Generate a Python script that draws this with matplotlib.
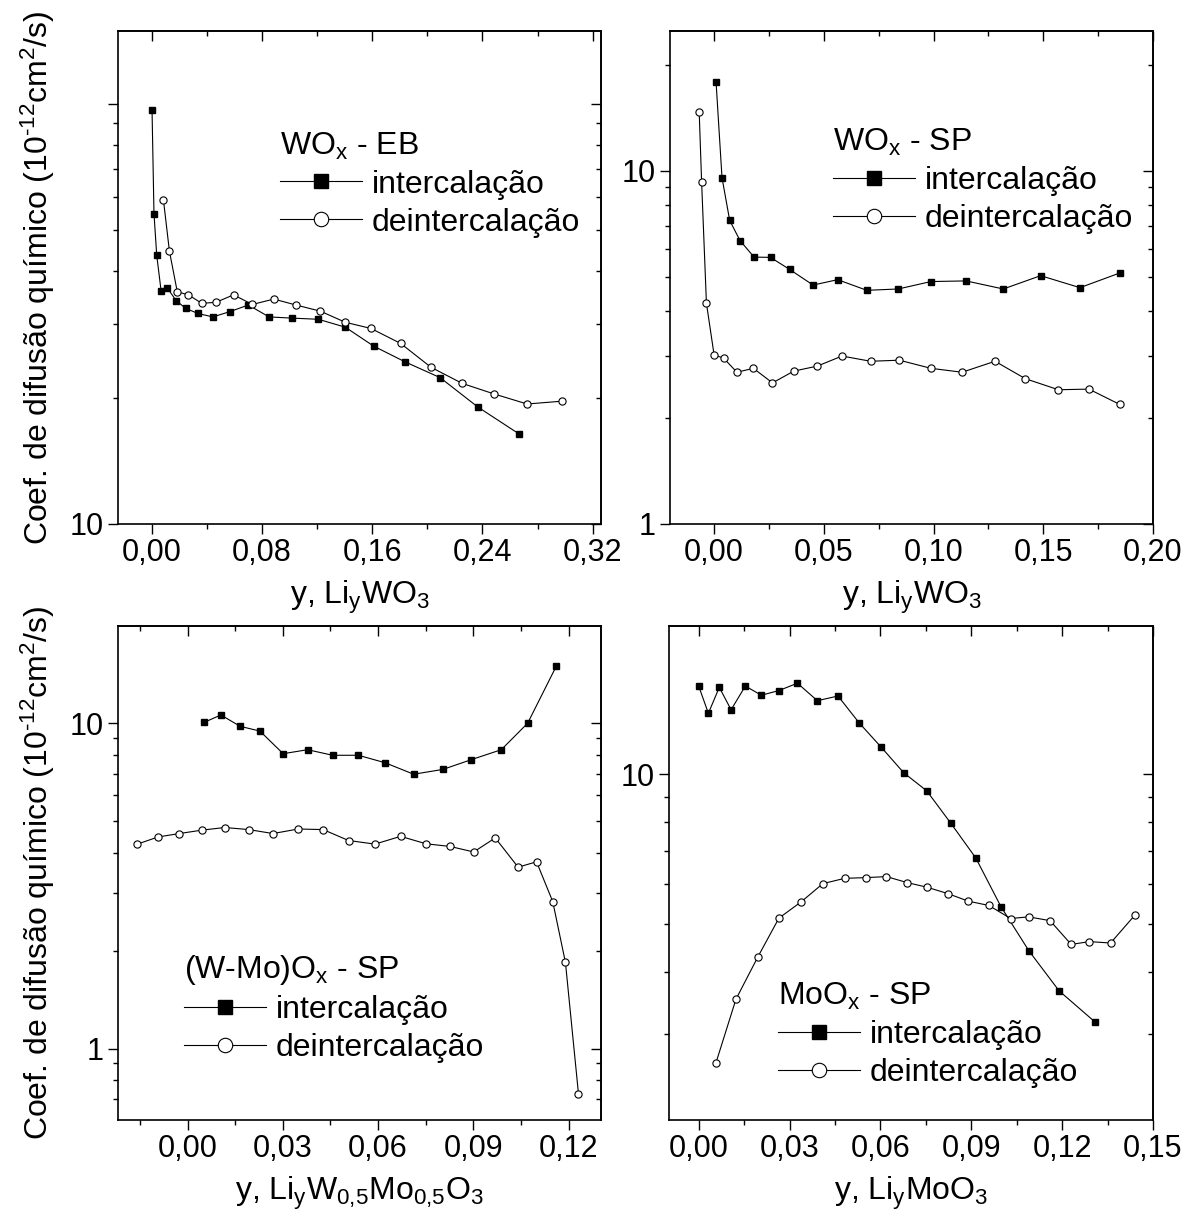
import matplotlib
matplotlib.use("Agg")
import matplotlib.pyplot as plt
from matplotlib.ticker import LogLocator, MultipleLocator, FuncFormatter, NullFormatter

plt.rcParams['font.family'] = ['Liberation Sans', 'DejaVu Sans']
plt.rcParams['mathtext.fontset'] = 'custom'
plt.rcParams['mathtext.rm'] = 'Liberation Sans'
plt.rcParams['mathtext.it'] = 'Liberation Sans:italic'
plt.rcParams['mathtext.bf'] = 'Liberation Sans:bold'

# ---------------- data ----------------
# Panel 1: WOx - EB
p1_int_x = [0.0003, 0.0017, 0.0037, 0.0069, 0.0115, 0.0178, 0.0247, 0.0335, 0.0444, 0.0565,
            0.0702, 0.0852, 0.1018, 0.1210, 0.1405, 0.1611, 0.1840, 0.2093, 0.2365, 0.2663]
p1_int_y = [96.4, 54.8, 43.6, 35.8, 36.4, 34.0, 32.6, 31.7, 31.1, 32.0,
            33.2, 31.1, 30.9, 30.7, 29.4, 26.5, 24.3, 22.3, 19.0, 16.4]
p1_dei_x = [0.0086, 0.0129, 0.0186, 0.0267, 0.0364, 0.0467, 0.0594, 0.0731, 0.0886, 0.1047,
            0.1224, 0.1405, 0.1591, 0.1806, 0.2027, 0.2254, 0.2483, 0.2724, 0.2976]
p1_dei_y = [58.9, 44.6, 35.7, 35.1, 33.5, 33.7, 35.1, 33.3, 34.3, 33.2,
            32.1, 30.2, 29.2, 26.9, 23.6, 21.6, 20.4, 19.3, 19.6]

# Panel 2: WOx - SP
p2_int_x = [0.0009, 0.0036, 0.0071, 0.0118, 0.0182, 0.0257, 0.0344, 0.0451, 0.0563, 0.0696,
            0.0839, 0.0988, 0.1148, 0.1318, 0.1488, 0.1667, 0.1849]
p2_int_y = [17.8, 9.57, 7.24, 6.35, 5.70, 5.69, 5.26, 4.75, 4.92, 4.59,
            4.63, 4.86, 4.88, 4.63, 5.05, 4.67, 5.14]
p2_dei_x = [-0.0068, -0.0057, -0.0035, 0.0, 0.0043, 0.0104, 0.0179, 0.0266, 0.0363, 0.0470,
            0.0583, 0.0713, 0.0844, 0.0988, 0.1130, 0.1280, 0.1418, 0.1569, 0.1708, 0.1849]
p2_dei_y = [14.7, 9.33, 4.22, 3.01, 2.95, 2.69, 2.76, 2.51, 2.71, 2.80,
            2.99, 2.89, 2.91, 2.76, 2.69, 2.89, 2.58, 2.40, 2.41, 2.18]

# Panel 3: (W-Mo)Ox - SP
p3_int_x = [0.0052, 0.0105, 0.0166, 0.0228, 0.0301, 0.0378, 0.0457, 0.0538, 0.0622, 0.0712,
            0.0804, 0.0894, 0.0988, 0.1071, 0.1161]
p3_int_y = [10.06, 10.6, 9.78, 9.46, 8.06, 8.29, 7.97, 7.97, 7.56, 6.97,
            7.21, 7.73, 8.29, 10.0, 14.96]
p3_dei_x = [-0.0158, -0.0093, -0.0026, 0.0044, 0.0117, 0.0193, 0.0269, 0.0349, 0.0427, 0.0507,
            0.0590, 0.0671, 0.0751, 0.0827, 0.0901, 0.0969, 0.1041, 0.1099, 0.1150, 0.1190, 0.1231]
p3_dei_y = [4.25, 4.47, 4.58, 4.69, 4.78, 4.71, 4.58, 4.73, 4.71, 4.36,
            4.25, 4.49, 4.26, 4.18, 4.02, 4.44, 3.61, 3.75, 2.83, 1.84, 0.727]

# Panel 4: MoOx - SP
p4_int_x = [0.0, 0.0032, 0.0068, 0.0107, 0.0154, 0.0207, 0.0265, 0.0326, 0.0392, 0.0460,
            0.0530, 0.0601, 0.0677, 0.0753, 0.0833, 0.0915, 0.0998, 0.1090, 0.1190, 0.1308]
p4_int_y = [15.06, 13.27, 14.97, 13.49, 15.06, 14.43, 14.75, 15.26, 14.07, 14.38,
            12.69, 11.37, 10.07, 9.26, 7.96, 6.78, 5.41, 4.41, 3.66, 3.17]
p4_dei_x = [0.0057, 0.0123, 0.0195, 0.0265, 0.0338, 0.0410, 0.0482, 0.0552, 0.0620, 0.0688,
            0.0754, 0.0822, 0.0890, 0.0958, 0.1030, 0.1089, 0.1160, 0.1230, 0.1290, 0.1360, 0.1440]
p4_dei_y = [2.62, 3.52, 4.28, 5.13, 5.53, 6.02, 6.17, 6.19, 6.22, 6.05,
            5.92, 5.75, 5.55, 5.44, 5.12, 5.16, 5.07, 4.54, 4.60, 4.57, 5.20]

legend_titles = [r"WO$_\mathregular{x}$ - EB", r"WO$_\mathregular{x}$ - SP",
                 r"(W-Mo)O$_\mathregular{x}$ - SP", r"MoO$_\mathregular{x}$ - SP"]
series_labels = ["intercalação", "deintercalação"]
x_labels = [r"y, Li$_\mathregular{y}$WO$_\mathregular{3}$",
            r"y, Li$_\mathregular{y}$WO$_\mathregular{3}$",
            r"y, Li$_\mathregular{y}$W$_\mathregular{0{,}5}$Mo$_\mathregular{0{,}5}$O$_\mathregular{3}$",
            r"y, Li$_\mathregular{y}$MoO$_\mathregular{3}$"]
y_label = r"Coef. de difusão químico (10$^\mathregular{\text{-}12}$cm$^\mathregular{2}$/s)"

# ---------------- figure ----------------
W, H = 1187, 1218
fig = plt.figure(figsize=(W / 100, H / 100), dpi=100)

def box(l, t, r, b):
    return [l / W, 1 - b / H, (r - l) / W, (b - t) / H]

rects = [box(118, 31, 601, 524), box(670, 31, 1153, 524),
         box(118, 626, 601, 1120), box(669, 626, 1153, 1120)]
xlims = [(-0.0244, 0.326), (-0.0201, 0.20), (-0.0219, 0.1302), (-0.0098, 0.15)]
ylims = [(10, 149), (1, 24.9), (0.603, 19.9), (2.01, 19.9)]
xmaj = [0.08, 0.05, 0.03, 0.03]
ylabels_shown = [[10], [1, 10], [1, 10], [10]]
leg_anchor = [(0.335, 0.798), (0.337, 0.805), (0.137, 0.338), (0.225, 0.281)]

data = [(p1_int_x, p1_int_y, p1_dei_x, p1_dei_y),
        (p2_int_x, p2_int_y, p2_dei_x, p2_dei_y),
        (p3_int_x, p3_int_y, p3_dei_x, p3_dei_y),
        (p4_int_x, p4_int_y, p4_dei_x, p4_dei_y)]

FS_TICK = 22
FS_LAB = 23
FS_LEG = 23
LW = 0.8
SPW = 1.2

for i in range(4):
    ax = fig.add_axes(rects[i])
    ix, iy, dx, dy = data[i]
    ax.plot(ix, iy, color='black', lw=LW, marker='s', ms=5, mfc='black', mec='black',
            label=series_labels[0])
    ax.plot(dx, dy, color='black', lw=LW, marker='o', ms=5.2, mfc='white', mec='black',
            mew=0.8, label=series_labels[1])
    ax.set_yscale('log')
    ax.set_xlim(*xlims[i])
    ax.set_ylim(*ylims[i])

    shown = ylabels_shown[i]
    ax.yaxis.set_major_locator(LogLocator(base=10, numticks=10))
    ax.yaxis.set_minor_locator(LogLocator(base=10, subs=range(2, 10), numticks=20))
    ax.yaxis.set_major_formatter(FuncFormatter(
        lambda v, p, s=shown: (str(int(round(v))) if any(abs(v - q) < 1e-6 for q in s) else "")))
    ax.yaxis.set_minor_formatter(NullFormatter())
    ax.xaxis.set_major_locator(MultipleLocator(xmaj[i]))
    ax.xaxis.set_minor_locator(MultipleLocator(xmaj[i] / 2))
    ax.xaxis.set_major_formatter(FuncFormatter(
        lambda v, p: f"{v:.2f}".replace('.', ',').replace('-0,00', '0,00')))

    ax.tick_params(which='major', direction='out', length=7, width=1.0, labelsize=FS_TICK, pad=3,
                   top=False, right=False, colors='black')
    ax.tick_params(which='minor', direction='out', length=3.5, width=1.0, top=False, right=False)
    for sp in ax.spines.values():
        sp.set_linewidth(SPW)

    # mirrored inward ticks on top and right
    secx = ax.secondary_xaxis('top')
    secx.xaxis.set_major_locator(MultipleLocator(xmaj[i]))
    secx.xaxis.set_minor_locator(MultipleLocator(xmaj[i] / 2))
    secx.xaxis.set_major_formatter(NullFormatter())
    secx.tick_params(which='major', direction='in', length=7, width=1.0, labeltop=False)
    secx.tick_params(which='minor', direction='in', length=3.5, width=1.0)
    secx.spines['top'].set_linewidth(SPW)
    secy = ax.secondary_yaxis('right')
    secy.yaxis.set_major_locator(LogLocator(base=10, numticks=10))
    secy.yaxis.set_minor_locator(LogLocator(base=10, subs=range(2, 10), numticks=20))
    secy.yaxis.set_major_formatter(NullFormatter())
    secy.yaxis.set_minor_formatter(NullFormatter())
    secy.tick_params(which='major', direction='in', length=7, width=1.0, labelright=False)
    secy.tick_params(which='minor', direction='in', length=3.5, width=1.0)
    secy.spines['right'].set_linewidth(SPW)

    ax.set_xlabel(x_labels[i], fontsize=FS_LAB, labelpad=8)
    if i in (0, 2):
        ax.set_ylabel(y_label, fontsize=FS_LAB, labelpad=9)

    ax.legend(title=legend_titles[i], loc='upper left', bbox_to_anchor=leg_anchor[i],
              frameon=False, fontsize=FS_LEG, title_fontsize=FS_LEG, alignment='left',
              handlelength=2.56, handletextpad=0.31, labelspacing=0.25, borderpad=0,
              borderaxespad=0, markerscale=2.0, numpoints=1)

fig.savefig("out.png", dpi=100)
